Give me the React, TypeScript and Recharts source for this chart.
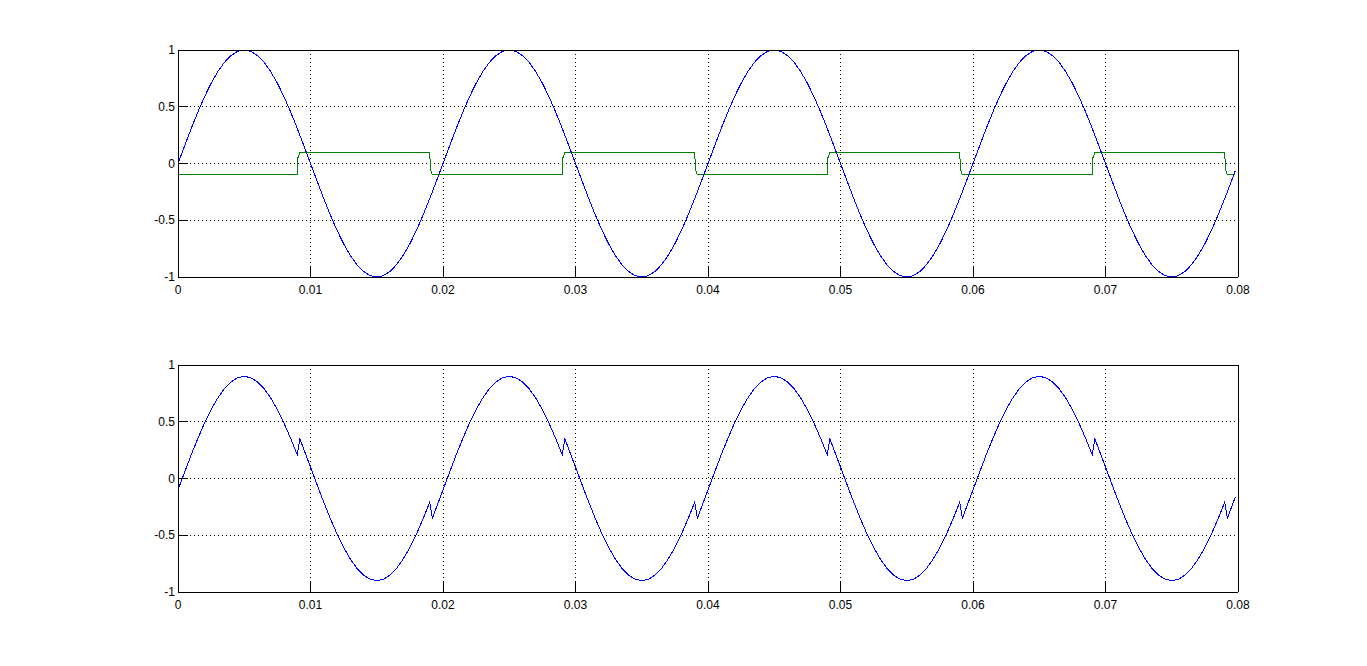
import React from 'react';
import { LineChart, Line, XAxis, YAxis, CartesianGrid } from 'recharts';

const xTicks = [0, 0.01, 0.02, 0.03, 0.04, 0.05, 0.06, 0.07, 0.08];
const yTicks = [-1, -0.5, 0, 0.5, 1];

// top panel: blue sine
const sineTimes = [
  0, 0.0005, 0.001, 0.0015, 0.002, 0.0025, 0.003, 0.0035, 0.004, 0.0045,
  0.005, 0.0055, 0.006, 0.0065, 0.007, 0.0075, 0.008, 0.0085, 0.009, 0.0095,
  0.01, 0.0105, 0.011, 0.0115, 0.012, 0.0125, 0.013, 0.0135, 0.014, 0.0145,
  0.015, 0.0155, 0.016, 0.0165, 0.017, 0.0175, 0.018, 0.0185, 0.019, 0.0195,
  0.02, 0.0205, 0.021, 0.0215, 0.022, 0.0225, 0.023, 0.0235, 0.024, 0.0245,
  0.025, 0.0255, 0.026, 0.0265, 0.027, 0.0275, 0.028, 0.0285, 0.029, 0.0295,
  0.03, 0.0305, 0.031, 0.0315, 0.032, 0.0325, 0.033, 0.0335, 0.034, 0.0345,
  0.035, 0.0355, 0.036, 0.0365, 0.037, 0.0375, 0.038, 0.0385, 0.039, 0.0395,
  0.04, 0.0405, 0.041, 0.0415, 0.042, 0.0425, 0.043, 0.0435, 0.044, 0.0445,
  0.045, 0.0455, 0.046, 0.0465, 0.047, 0.0475, 0.048, 0.0485, 0.049, 0.0495,
  0.05, 0.0505, 0.051, 0.0515, 0.052, 0.0525, 0.053, 0.0535, 0.054, 0.0545,
  0.055, 0.0555, 0.056, 0.0565, 0.057, 0.0575, 0.058, 0.0585, 0.059, 0.0595,
  0.06, 0.0605, 0.061, 0.0615, 0.062, 0.0625, 0.063, 0.0635, 0.064, 0.0645,
  0.065, 0.0655, 0.066, 0.0665, 0.067, 0.0675, 0.068, 0.0685, 0.069, 0.0695,
  0.07, 0.0705, 0.071, 0.0715, 0.072, 0.0725, 0.073, 0.0735, 0.074, 0.0745,
  0.075, 0.0755, 0.076, 0.0765, 0.077, 0.0775, 0.078, 0.0785, 0.079, 0.0795,
  0.0798,
];
const sineValues = [
  0, 0.156, 0.309, 0.454, 0.588, 0.707, 0.809, 0.891, 0.951, 0.988,
  1, 0.988, 0.951, 0.891, 0.809, 0.707, 0.588, 0.454, 0.309, 0.156,
  0, -0.156, -0.309, -0.454, -0.588, -0.707, -0.809, -0.891, -0.951, -0.988,
  -1, -0.988, -0.951, -0.891, -0.809, -0.707, -0.588, -0.454, -0.309, -0.156,
  0, 0.156, 0.309, 0.454, 0.588, 0.707, 0.809, 0.891, 0.951, 0.988,
  1, 0.988, 0.951, 0.891, 0.809, 0.707, 0.588, 0.454, 0.309, 0.156,
  0, -0.156, -0.309, -0.454, -0.588, -0.707, -0.809, -0.891, -0.951, -0.988,
  -1, -0.988, -0.951, -0.891, -0.809, -0.707, -0.588, -0.454, -0.309, -0.156,
  0, 0.156, 0.309, 0.454, 0.588, 0.707, 0.809, 0.891, 0.951, 0.988,
  1, 0.988, 0.951, 0.891, 0.809, 0.707, 0.588, 0.454, 0.309, 0.156,
  0, -0.156, -0.309, -0.454, -0.588, -0.707, -0.809, -0.891, -0.951, -0.988,
  -1, -0.988, -0.951, -0.891, -0.809, -0.707, -0.588, -0.454, -0.309, -0.156,
  0, 0.156, 0.309, 0.454, 0.588, 0.707, 0.809, 0.891, 0.951, 0.988,
  1, 0.988, 0.951, 0.891, 0.809, 0.707, 0.588, 0.454, 0.309, 0.156,
  0, -0.156, -0.309, -0.454, -0.588, -0.707, -0.809, -0.891, -0.951, -0.988,
  -1, -0.988, -0.951, -0.891, -0.809, -0.707, -0.588, -0.454, -0.309, -0.156,
  -0.063,
];

// top panel: green square wave
const squareTimes = [
  0, 0.009, 0.00905, 0.0092, 0.019, 0.01905, 0.0192,
  0.029, 0.02905, 0.0292, 0.039, 0.03905, 0.0392,
  0.049, 0.04905, 0.0492, 0.059, 0.05905, 0.0592,
  0.069, 0.06905, 0.0692, 0.079, 0.07905, 0.0792, 0.0798,
];
const squareValues = [
  -0.1, -0.1, 0.05, 0.1, 0.1, -0.05, -0.1,
  -0.1, 0.05, 0.1, 0.1, -0.05, -0.1,
  -0.1, 0.05, 0.1, 0.1, -0.05, -0.1,
  -0.1, 0.05, 0.1, 0.1, -0.05, -0.1, -0.1,
];

// bottom panel: blue combined signal
const sumTimes = [
  0, 0.0005, 0.001, 0.0015, 0.002, 0.0025, 0.003, 0.0035, 0.004, 0.0045,
  0.005, 0.0055, 0.006, 0.0065, 0.007, 0.0075, 0.008, 0.0085, 0.009, 0.0092, 0.0095,
  0.01, 0.0105, 0.011, 0.0115, 0.012, 0.0125, 0.013, 0.0135, 0.014, 0.0145,
  0.015, 0.0155, 0.016, 0.0165, 0.017, 0.0175, 0.018, 0.0185, 0.019, 0.0192, 0.0195,
  0.02, 0.0205, 0.021, 0.0215, 0.022, 0.0225, 0.023, 0.0235, 0.024, 0.0245,
  0.025, 0.0255, 0.026, 0.0265, 0.027, 0.0275, 0.028, 0.0285, 0.029, 0.0292, 0.0295,
  0.03, 0.0305, 0.031, 0.0315, 0.032, 0.0325, 0.033, 0.0335, 0.034, 0.0345,
  0.035, 0.0355, 0.036, 0.0365, 0.037, 0.0375, 0.038, 0.0385, 0.039, 0.0392, 0.0395,
  0.04, 0.0405, 0.041, 0.0415, 0.042, 0.0425, 0.043, 0.0435, 0.044, 0.0445,
  0.045, 0.0455, 0.046, 0.0465, 0.047, 0.0475, 0.048, 0.0485, 0.049, 0.0492, 0.0495,
  0.05, 0.0505, 0.051, 0.0515, 0.052, 0.0525, 0.053, 0.0535, 0.054, 0.0545,
  0.055, 0.0555, 0.056, 0.0565, 0.057, 0.0575, 0.058, 0.0585, 0.059, 0.0592, 0.0595,
  0.06, 0.0605, 0.061, 0.0615, 0.062, 0.0625, 0.063, 0.0635, 0.064, 0.0645,
  0.065, 0.0655, 0.066, 0.0665, 0.067, 0.0675, 0.068, 0.0685, 0.069, 0.0692, 0.0695,
  0.07, 0.0705, 0.071, 0.0715, 0.072, 0.0725, 0.073, 0.0735, 0.074, 0.0745,
  0.075, 0.0755, 0.076, 0.0765, 0.077, 0.0775, 0.078, 0.0785, 0.079, 0.0792, 0.0795,
  0.0798,
];
const sumValues = [
  -0.1, 0.056, 0.209, 0.354, 0.488, 0.607, 0.709, 0.791, 0.851, 0.888,
  0.9, 0.888, 0.851, 0.791, 0.709, 0.607, 0.488, 0.354, 0.209, 0.349, 0.256,
  0.1, -0.056, -0.209, -0.354, -0.488, -0.607, -0.709, -0.791, -0.851, -0.888,
  -0.9, -0.888, -0.851, -0.791, -0.709, -0.607, -0.488, -0.354, -0.209, -0.349, -0.256,
  -0.1, 0.056, 0.209, 0.354, 0.488, 0.607, 0.709, 0.791, 0.851, 0.888,
  0.9, 0.888, 0.851, 0.791, 0.709, 0.607, 0.488, 0.354, 0.209, 0.349, 0.256,
  0.1, -0.056, -0.209, -0.354, -0.488, -0.607, -0.709, -0.791, -0.851, -0.888,
  -0.9, -0.888, -0.851, -0.791, -0.709, -0.607, -0.488, -0.354, -0.209, -0.349, -0.256,
  -0.1, 0.056, 0.209, 0.354, 0.488, 0.607, 0.709, 0.791, 0.851, 0.888,
  0.9, 0.888, 0.851, 0.791, 0.709, 0.607, 0.488, 0.354, 0.209, 0.349, 0.256,
  0.1, -0.056, -0.209, -0.354, -0.488, -0.607, -0.709, -0.791, -0.851, -0.888,
  -0.9, -0.888, -0.851, -0.791, -0.709, -0.607, -0.488, -0.354, -0.209, -0.349, -0.256,
  -0.1, 0.056, 0.209, 0.354, 0.488, 0.607, 0.709, 0.791, 0.851, 0.888,
  0.9, 0.888, 0.851, 0.791, 0.709, 0.607, 0.488, 0.354, 0.209, 0.349, 0.256,
  0.1, -0.056, -0.209, -0.354, -0.488, -0.607, -0.709, -0.791, -0.851, -0.888,
  -0.9, -0.888, -0.851, -0.791, -0.709, -0.607, -0.488, -0.354, -0.209, -0.349, -0.256,
  -0.163,
];

const sineData = sineTimes.map((t, i) => ({ t, v: sineValues[i] }));
const squareData = squareTimes.map((t, i) => ({ t, v: squareValues[i] }));
const sumData = sumTimes.map((t, i) => ({ t, v: sumValues[i] }));

const FONT = '"Liberation Sans", Arial, Helvetica, sans-serif';
const TICK_LEN = 10;

const BottomTick = (props: any) => {
  const { x, y, payload } = props;
  return (
    <g>
      <line x1={x} y1={y} x2={x} y2={y - TICK_LEN} stroke="#000" shapeRendering="crispEdges" />
      <text x={x} y={y + 16.5} textAnchor="middle" fontSize={12} fontFamily={FONT} fill="#000">
        {String(payload.value)}
      </text>
    </g>
  );
};
const TopTick = (props: any) => {
  const { x, y } = props;
  return <line x1={x} y1={y} x2={x} y2={y + TICK_LEN} stroke="#000" shapeRendering="crispEdges" />;
};
const LeftTick = (props: any) => {
  const { x, y, payload } = props;
  return (
    <g>
      <line x1={x} y1={y} x2={x + TICK_LEN} y2={y} stroke="#000" shapeRendering="crispEdges" />
      <text x={x - 3} y={y + 4} textAnchor="end" fontSize={12} fontFamily={FONT} fill="#000">
        {String(payload.value)}
      </text>
    </g>
  );
};
const RightTick = (props: any) => {
  const { x, y } = props;
  return <line x1={x} y1={y} x2={x - TICK_LEN} y2={y} stroke="#000" shapeRendering="crispEdges" />;
};

function Panel({ children }: { children: React.ReactNode }) {
  return (
    <LineChart width={1367} height={307} margin={{ top: 50, right: 129, bottom: 0, left: 0 }}>
      <CartesianGrid stroke="#000" strokeDasharray="1 3" shapeRendering="crispEdges" />
      <XAxis
        dataKey="t"
        type="number"
        domain={[0, 0.08]}
        ticks={xTicks}
        interval={0}
        height={30}
        tickSize={0}
        tickMargin={0}
        tickLine={false}
        axisLine={{ stroke: '#000', shapeRendering: 'crispEdges' }}
        tick={BottomTick}
      />
      <XAxis
        xAxisId="top"
        orientation="top"
        mirror
        dataKey="t"
        type="number"
        domain={[0, 0.08]}
        ticks={xTicks}
        interval={0}
        tickSize={0}
        tickMargin={0}
        tickLine={false}
        axisLine={{ stroke: '#000', shapeRendering: 'crispEdges' }}
        tick={TopTick}
      />
      <YAxis
        type="number"
        domain={[-1, 1]}
        ticks={yTicks}
        interval={0}
        width={178}
        tickSize={0}
        tickMargin={0}
        tickLine={false}
        axisLine={{ stroke: '#000', shapeRendering: 'crispEdges' }}
        tick={LeftTick}
      />
      <YAxis
        yAxisId="right"
        orientation="right"
        mirror
        type="number"
        domain={[-1, 1]}
        ticks={yTicks}
        interval={0}
        tickSize={0}
        tickMargin={0}
        tickLine={false}
        axisLine={{ stroke: '#000', shapeRendering: 'crispEdges' }}
        tick={RightTick}
      />
      {children}
    </LineChart>
  );
}

export default function App() {
  return (
    <div style={{ position: 'absolute', left: 0, top: 0, width: 1367, height: 666, background: '#fff', overflow: 'hidden' }}>
      <div style={{ position: 'absolute', left: 0, top: 0 }}>
        <Panel>
          <Line data={squareData} dataKey="v" type="linear" dot={false} activeDot={false} stroke="#008000" strokeWidth={1} isAnimationActive={false} shapeRendering="crispEdges" />
          <Line data={sineData} dataKey="v" type="linear" dot={false} activeDot={false} stroke="#0000ff" strokeWidth={1} isAnimationActive={false} shapeRendering="crispEdges" />
        </Panel>
      </div>
      <div style={{ position: 'absolute', left: 0, top: 315 }}>
        <Panel>
          <Line data={sumData} dataKey="v" type="linear" dot={false} activeDot={false} stroke="#0000ff" strokeWidth={1} isAnimationActive={false} shapeRendering="crispEdges" />
        </Panel>
      </div>
    </div>
  );
}
